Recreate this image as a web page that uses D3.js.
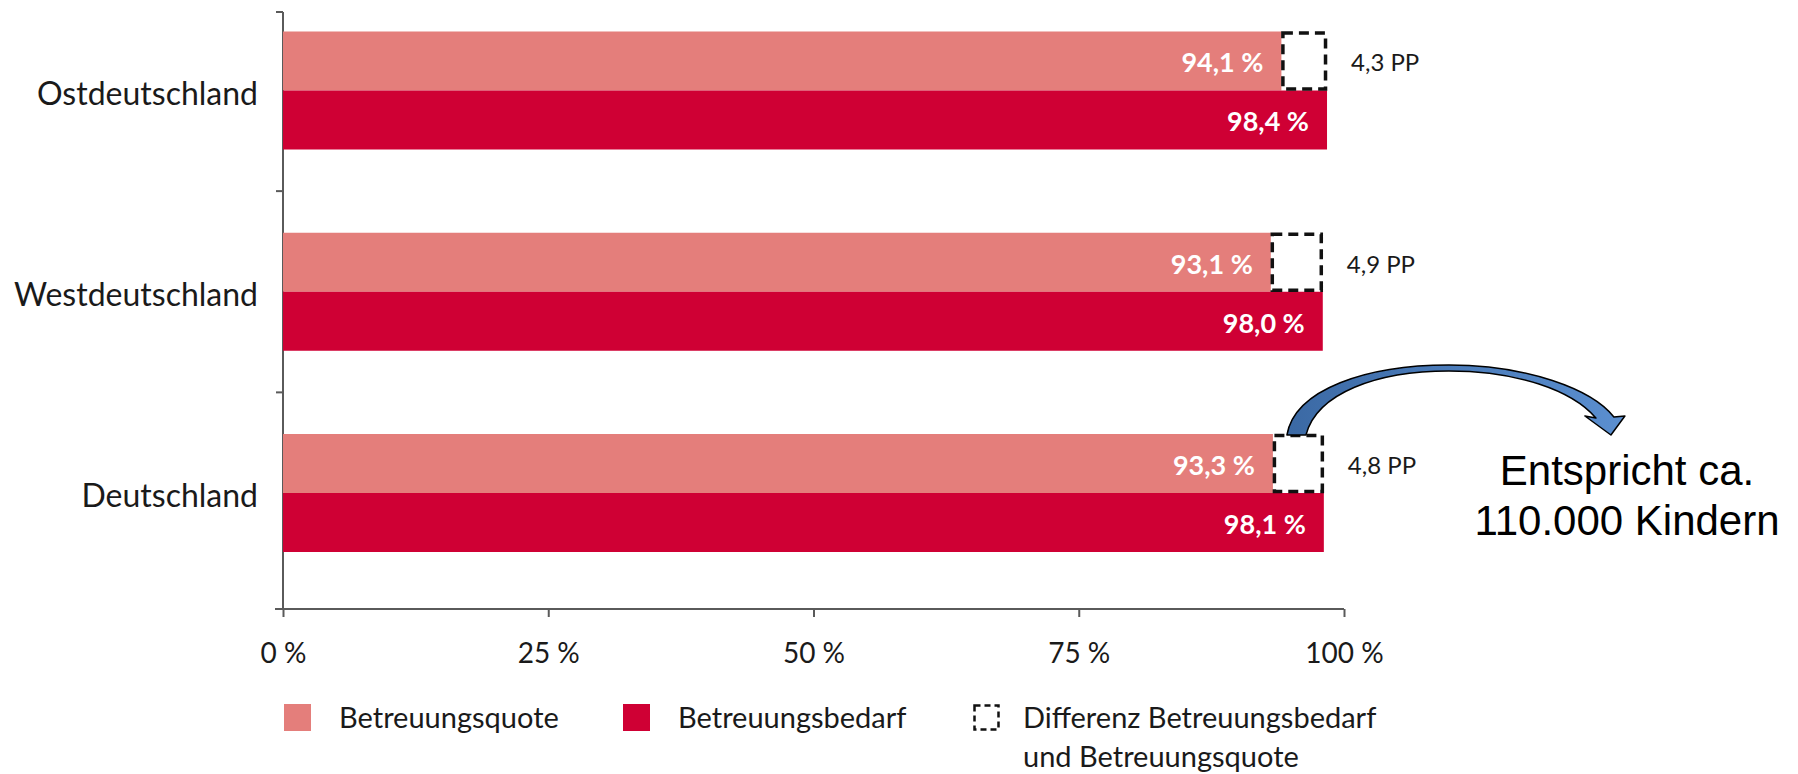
<!DOCTYPE html>
<html>
<head>
<meta charset="utf-8">
<script src="https://cdn.jsdelivr.net/npm/d3@7"></script>
<style>
  body { margin: 0; background: #fff; }
  svg { display: block; }
  .cat { font-family: Lato, "Open Sans", sans-serif; font-size: 32px; fill: #1a1a1a; }
  .val { font-family: Lato, sans-serif; font-weight: 700; font-size: 27px; fill: #fff; }
  .pp { font-family: Lato, sans-serif; font-size: 24px; fill: #1a1a1a; }
  .leg { font-family: Lato, sans-serif; font-size: 29px; fill: #1a1a1a; }
  .note { font-family: "Liberation Sans", Arial, sans-serif; font-size: 42px; fill: #000; }
</style>
</head>
<body>
<div id="chart"></div>
<script>
const width = 1798;
const height = 774;

// data
const categories = ["Ostdeutschland", "Westdeutschland", "Deutschland"];
const quote = [94.1, 93.1, 93.3];      // Betreuungsquote
const bedarf = [98.4, 98.0, 98.1];     // Betreuungsbedarf
const xTicks = [0, 25, 50, 75, 100];
const legendLabels = ["Betreuungsquote", "Betreuungsbedarf", ["Differenz Betreuungsbedarf", "und Betreuungsquote"]];
const noteLines = ["Entspricht ca.", "110.000 Kindern"];

const colQuote = "#e47e7b";
const colBedarf = "#cf0034";
const axisCol = "#5a5a5a";

let svg = d3.select("#chart")
    .append("svg")
    .attr("width", width)
    .attr("height", height);

const fmt = (v) => d3.format(".1f")(v).replace(".", ",");

let x = d3.scaleLinear().domain([0, 100]).range([283, 1344]);
let y = d3.scalePoint().domain(categories).range([90.5, 493]);
const barH = 59;
const axTop = 12, axBottom = 609;

let rows = categories.map((c, i) => ({ cat: c, quote: quote[i], bedarf: bedarf[i] }));

// axes
svg.append("line")
    .attr("x1", x(0)).attr("x2", x(0))
    .attr("y1", axTop).attr("y2", axBottom)
    .attr("stroke", axisCol).attr("stroke-width", 2);

let yTicks = [axTop].concat(d3.pairs(categories).map(([a, b]) => (y(a) + y(b)) / 2));
svg.selectAll(".ytick")
    .data(yTicks)
    .enter()
    .append("line")
    .attr("x1", x(0) - 7).attr("x2", x(0))
    .attr("y1", (d) => d).attr("y2", (d) => d)
    .attr("stroke", axisCol).attr("stroke-width", 2);

let xAxis = svg.append("g")
    .attr("transform", `translate(0,${axBottom})`)
    .call(d3.axisBottom(x)
        .tickValues(xTicks)
        .tickSizeInner(8)
        .tickSizeOuter(0)
        .tickPadding(26)
        .tickFormat((d) => d + " %"));
xAxis.select(".domain").attr("stroke", axisCol).attr("stroke-width", 2)
    .attr("d", `M${x(0) - 8},0H${x(100)}`);
xAxis.selectAll(".tick line").attr("stroke", axisCol).attr("stroke-width", 2);
xAxis.selectAll(".tick text")
    .attr("fill", "#1a1a1a")
    .style("font-family", "Lato, sans-serif")
    .style("font-size", "28px");

// bars
svg.selectAll(".bar-quote")
    .data(rows)
    .enter()
    .append("rect")
    .attr("x", x(0))
    .attr("y", (d) => y(d.cat) - barH)
    .attr("width", (d) => x(d.quote) - x(0))
    .attr("height", barH)
    .attr("fill", colQuote);

svg.selectAll(".bar-bedarf")
    .data(rows)
    .enter()
    .append("rect")
    .attr("x", x(0))
    .attr("y", (d) => y(d.cat))
    .attr("width", (d) => x(d.bedarf) - x(0))
    .attr("height", barH)
    .attr("fill", colBedarf);

// dashed difference boxes
svg.selectAll(".diff")
    .data(rows)
    .enter()
    .append("rect")
    .attr("x", (d) => x(d.quote) + 1.5)
    .attr("y", (d) => y(d.cat) - barH + 1.5)
    .attr("width", (d) => x(d.bedarf) - x(d.quote) - 3)
    .attr("height", barH - 3)
    .attr("fill", "none")
    .attr("stroke", "#111")
    .attr("stroke-width", 3.5)
    .attr("stroke-dasharray", "10,6");

// value labels
svg.selectAll(".val-q")
    .data(rows)
    .enter()
    .append("text")
    .attr("class", "val")
    .attr("text-anchor", "end")
    .attr("x", (d) => x(d.quote) - 18)
    .attr("y", (d) => y(d.cat) - barH / 2 + 2)
    .attr("dy", "0.35em")
    .text((d) => fmt(d.quote) + " %");

svg.selectAll(".val-b")
    .data(rows)
    .enter()
    .append("text")
    .attr("class", "val")
    .attr("text-anchor", "end")
    .attr("x", (d) => x(d.bedarf) - 18)
    .attr("y", (d) => y(d.cat) + barH / 2 + 2)
    .attr("dy", "0.35em")
    .text((d) => fmt(d.bedarf) + " %");

svg.selectAll(".pp")
    .data(rows)
    .enter()
    .append("text")
    .attr("class", "pp")
    .attr("x", (d) => x(d.bedarf) + 24)
    .attr("y", (d) => y(d.cat) - barH / 2 + 2)
    .attr("dy", "0.35em")
    .text((d) => fmt(d.bedarf - d.quote) + " PP");

// category labels
svg.selectAll(".cat")
    .data(categories)
    .enter()
    .append("text")
    .attr("class", "cat")
    .attr("text-anchor", "end")
    .attr("x", 258)
    .attr("y", (d) => y(d) + 3)
    .attr("dy", "0.35em")
    .text((d) => d);

// legend
const legX = [284, 623, 973];
const legY = 704;
let leg = svg.selectAll(".legend")
    .data(legendLabels)
    .enter()
    .append("g")
    .attr("transform", (d, i) => `translate(${legX[i]},${legY})`);

leg.append("rect")
    .attr("x", (d, i) => i === 2 ? 1.5 : 0)
    .attr("y", (d, i) => i === 2 ? 1.5 : 0)
    .attr("width", (d, i) => i === 2 ? 24 : 27)
    .attr("height", (d, i) => i === 2 ? 24 : 27)
    .attr("fill", (d, i) => [colQuote, colBedarf, "none"][i])
    .attr("stroke", (d, i) => i === 2 ? "#111" : "none")
    .attr("stroke-width", 2.5)
    .attr("stroke-dasharray", "6,4");

leg.append("text")
    .attr("class", "leg")
    .attr("x", (d, i) => i === 2 ? 50 : 55)
    .attr("y", 24)
    .selectAll("tspan")
    .data((d) => Array.isArray(d) ? d : [d])
    .enter()
    .append("tspan")
    .attr("x", function () { return this.parentNode.getAttribute("x"); })
    .attr("dy", (d, i) => i === 0 ? 0 : 39)
    .text((d) => d);

// curved arrow from the Deutschland gap to the note
const last = rows[rows.length - 1];
const ax = x(last.quote) + 14;
const ay = y(last.cat) - barH + 1;
let p = d3.path();
p.moveTo(ax, ay);
p.bezierCurveTo(ax + 8, ay - 46, ax + 80, ay - 70, ax + 162, ay - 70);
p.bezierCurveTo(ax + 240, ay - 70, ax + 305, ay - 46, ax + 327, ay - 18);
p.lineTo(ax + 338, ay - 19);
p.lineTo(ax + 324, ay);
p.lineTo(ax + 298, ay - 19);
p.lineTo(ax + 309, ay - 17);
p.bezierCurveTo(ax + 285, ay - 45, ax + 230, ay - 64, ax + 162, ay - 64);
p.bezierCurveTo(ax + 90, ay - 64, ax + 30, ay - 42, ax + 19, ay);
p.closePath();

let grad = svg.append("defs").append("linearGradient")
    .attr("id", "arrowGrad")
    .attr("x1", "0%").attr("x2", "100%").attr("y1", "0%").attr("y2", "0%");
grad.append("stop").attr("offset", "0%").attr("stop-color", "#3b69a4");
grad.append("stop").attr("offset", "100%").attr("stop-color", "#5b8fd0");

svg.append("path")
    .attr("d", p.toString())
    .attr("fill", "url(#arrowGrad)")
    .attr("stroke", "#000")
    .attr("stroke-width", 1.5)
    .attr("stroke-linejoin", "round");

svg.append("text")
    .attr("class", "note")
    .attr("text-anchor", "middle")
    .attr("x", 1627)
    .attr("y", 485)
    .selectAll("tspan")
    .data(noteLines)
    .enter()
    .append("tspan")
    .attr("x", 1627)
    .attr("dy", (d, i) => i === 0 ? 0 : 50)
    .text((d) => d);
</script>
</body>
</html>
